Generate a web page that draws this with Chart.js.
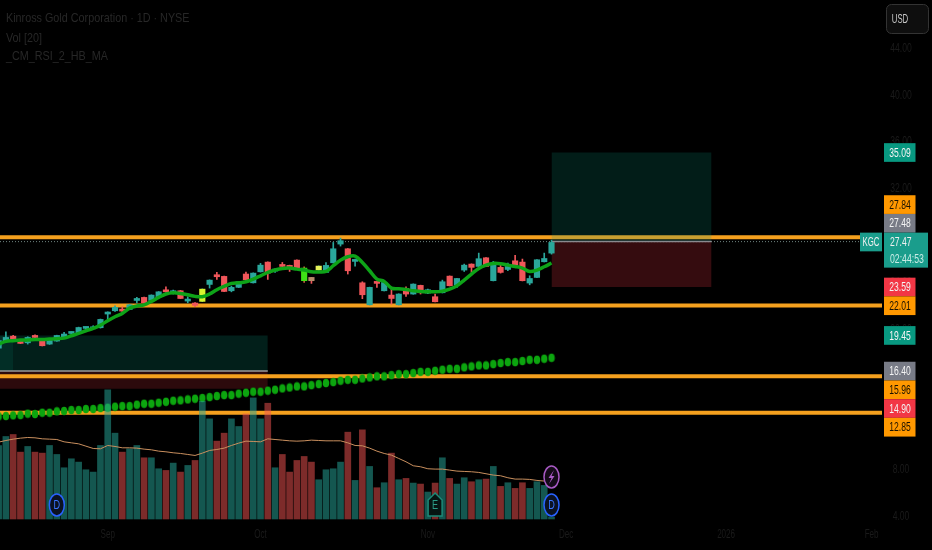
<!DOCTYPE html>
<html>
<head>
<meta charset="utf-8">
<title>KGC</title>
<script src="https://cdn.jsdelivr.net/npm/chart.js@4/dist/chart.umd.min.js"></script>
<style>
html,body{margin:0;padding:0;background:#000;}
canvas{display:block;}
</style>
</head>
<body>
<canvas id="kgcChart" width="932" height="550"></canvas>
<script>
const legendLines = ['Kinross Gold Corporation · 1D · NYSE', 'Vol [20]', '_CM_RSI_2_HB_MA'];

// daily bars, from Aug into the end of Nov
const opens = [18.37,19.0,19.39,18.94,18.82,19.42,19.19,18.71,18.97,19.28,
19.62,19.68,20.05,20.02,20.11,21.28,21.56,21.62,21.67,22.44,
22.70,22.44,22.73,23.30,23.10,23.27,22.39,22.22,22.36,23.81,
24.55,24.50,23.27,23.56,24.70,23.95,24.89,25.72,24.95,25.41,
25.44,25.89,24.13,24.41,25.04,24.84,25.66,27.26,26.86,25.78,
23.95,22.07,23.98,23.27,22.90,22.07,23.47,22.99,23.73,23.07,
22.76,23.10,24.52,23.75,25.04,25.55,25.35,26.09,24.13,25.27,
25.09,25.83,25.72,23.93,24.41,25.75,26.49];
const highs = [19.0,19.76,19.45,18.94,19.34,19.51,19.19,19.05,19.47,19.71,
19.76,20.16,20.16,20.28,20.85,21.47,21.99,21.90,22.10,22.70,
22.72,22.92,23.20,23.61,23.33,23.30,22.76,22.27,23.43,24.20,
24.84,24.52,23.67,24.06,24.87,24.80,25.61,25.74,25.15,25.69,
25.46,25.91,25.32,24.41,25.40,25.69,27.40,27.77,26.88,25.98,
24.04,23.58,24.00,24.13,23.41,23.01,23.61,23.86,23.75,23.41,
22.99,24.18,24.54,24.34,25.55,25.57,26.49,26.11,25.78,25.61,
25.64,26.29,25.98,24.55,25.94,26.49,27.60];
const lows = [18.37,18.95,19.0,18.75,18.71,19.14,18.55,18.68,18.95,19.19,
19.57,19.65,20.02,19.96,20.08,20.76,21.50,21.42,21.65,22.24,
22.22,22.42,22.70,23.16,22.99,22.60,22.24,21.90,22.34,23.50,
24.24,23.20,23.18,23.54,24.19,23.93,24.87,24.24,24.84,25.15,
24.92,25.16,23.98,23.90,25.02,24.81,25.64,27.09,24.70,25.38,
22.59,22.05,23.56,23.25,22.13,22.05,22.79,22.97,22.99,23.02,
22.31,23.08,23.68,23.56,24.92,24.84,25.33,25.33,24.11,24.78,
24.98,25.44,24.11,23.78,24.39,25.73,26.40];
const closes = [19.0,19.28,19.0,18.77,19.28,19.28,18.57,19.02,19.45,19.57,
19.68,20.13,20.11,20.08,20.82,21.42,21.85,21.53,22.07,22.50,
22.24,22.90,23.18,23.18,23.18,22.61,22.44,22.02,23.41,24.18,
24.47,23.21,23.56,24.04,24.21,24.78,25.46,24.78,25.04,25.35,
25.15,25.18,25.21,24.13,25.38,25.44,26.86,27.55,24.98,25.92,
22.93,23.56,23.90,23.98,22.61,22.99,22.99,23.84,23.10,23.36,
22.33,24.04,23.70,24.32,25.46,25.27,26.01,25.35,25.55,24.84,
25.35,25.46,24.13,24.32,25.92,26.03,27.40];

// thick green average over the candles
const trendLine = [18.71,18.94,19.0,19.05,19.05,19.11,19.11,19.14,19.17,19.22,
19.42,19.62,19.85,20.05,20.33,20.71,21.05,21.33,21.79,21.96,
22.07,22.36,22.70,22.99,23.10,23.04,22.93,22.79,22.76,22.99,
23.36,23.64,23.90,23.95,24.04,24.27,24.55,24.84,25.04,25.18,
25.21,25.12,25.04,24.89,24.87,24.92,25.41,25.89,26.18,26.23,
25.69,24.98,24.27,24.07,23.50,23.44,23.38,23.27,23.21,23.18,
23.18,23.24,23.41,23.70,24.18,24.70,25.18,25.46,25.61,25.58,
25.46,25.35,25.21,24.92,25.04,25.32,25.64];

// slow green dots
const dotLine = [12.53,12.56,12.62,12.64,12.76,12.73,12.84,12.84,12.96,12.99,
13.07,13.07,13.16,13.16,13.24,13.27,13.36,13.41,13.41,13.53,
13.61,13.61,13.70,13.78,13.87,13.90,13.98,14.04,14.10,14.18,
14.27,14.35,14.35,14.47,14.55,14.64,14.64,14.73,14.81,14.92,
15.0,15.09,15.09,15.20,15.29,15.38,15.46,15.58,15.66,15.66,
15.77,15.86,15.95,15.95,16.06,16.14,16.14,16.23,16.34,16.34,
16.43,16.52,16.60,16.60,16.72,16.80,16.89,16.89,17.0,17.09,
17.17,17.17,17.26,17.37,17.37,17.46,17.54];

// volume in millions
const volumes = [11.05,12.4,12.7,10.05,10.9,10.05,9.9,11.05,9.7,7.7,
9.05,8.55,7.4,7.05,11.05,19.4,12.9,10.05,10.55,11.05,
9.2,9.2,7.55,7.3,8.4,7.05,8.05,8.8,17.7,15.05,
11.7,12.9,15.05,13.9,15.8,18.2,15.05,17.4,7.7,9.7,
7.05,8.8,9.4,8.55,5.9,7.4,7.55,8.55,13.05,5.8,
13.4,7.9,4.7,5.45,9.9,5.9,6.1,5.4,5.25,4.05,
5.4,9.2,6.1,5.25,6.2,5.6,5.9,6.0,7.9,4.9,
5.45,4.6,5.45,4.6,5.6,5.05,0.3];
const volumeDown = [0,0,1,1,0,1,1,0,0,0,
0,0,0,0,0,0,0,1,0,0,
1,0,0,1,0,1,0,1,0,0,
1,1,0,0,1,0,0,1,0,1,
1,1,1,1,0,0,0,0,1,0,
1,0,1,0,1,0,1,0,1,0,
1,0,1,0,0,1,0,1,0,1,
0,1,1,0,0,0,0];
const volumeAverage = [11.55,11.8,12.0,12.15,12.25,12.2,12.05,12.0,11.95,11.6,
11.45,11.3,10.95,10.6,10.55,11.05,10.9,10.7,10.7,10.65,
10.5,10.4,10.2,10.1,9.95,9.85,9.7,9.55,9.9,10.3,
10.45,10.65,11.05,11.4,11.7,11.65,11.6,12.05,11.95,11.85,
11.75,11.7,11.75,11.85,11.8,11.75,11.75,11.75,11.45,11.05,
11.0,10.65,10.2,9.85,9.6,9.1,8.6,8.0,7.85,7.55,
7.5,7.5,7.35,7.2,7.15,7.1,7.0,6.8,6.6,6.5,
6.2,6.0,6.0,5.95,5.8,5.7];

const priceTicks = [44,40,36,32,28,24,20,16,12,8,4];
const monthBars = [15,36,59,78,100,120];
const monthNames = ['Sep','Oct','Nov','Dec','2026','Feb'];

const levelPrices = [27.84,22.01,15.96,12.85];
const lastPrice = 27.47;
const countdown = '02:44:53';

const tagPrices = [35.09,27.84,27.48,23.59,22.01,19.45,16.40,15.96,14.90,12.85];
const tagKinds = ['teal','orange','gray','red','orange','teal','gray','orange','red','orange'];

const eventBars = [8,60,76,76];
const eventKinds = ['D','E','bolt','D'];

const UP = '#2aa79b';
const DOWN = '#f0565a';
const paintBars = {28:'#d8f52e',42:'#3fe016',43:'#b68d6c',44:'#e4f25a'};
const FONT = '"Liberation Sans",Arial,sans-serif';

const xMin = 0.19;
const xMax = 121.43;
const barIndex = opens.map((v,i)=>i);

function seq(values){
	return values.map((v,i)=>({x:i,y:v}));
}
function hLine(price,from,to,extra){
	return Object.assign({
		type:'line',
		data:[{x:from,y:price},{x:to,y:price}],
		pointRadius:0,
		borderWidth:0,
		fill:false
	},extra);
}
function zone(top,bottom,from,to,color,order){
	return [
		hLine(top,from,to,{fill:'+1',backgroundColor:color,order:order}),
		hLine(bottom,from,to,{order:order})
	];
}

// the dots are taller than wide in the picture
const dotMark = document.createElement('canvas');
dotMark.width = 8;
dotMark.height = 10;
{
	const c = dotMark.getContext('2d');
	c.fillStyle = '#0ca50f';
	c.beginPath();
	c.ellipse(4,5,3.2,4.3,0,0,Math.PI*2);
	c.fill();
}

const bodyColors = barIndex.map(i=>paintBars[i] || (closes[i]>=opens[i] ? UP : DOWN));
const wickColors = barIndex.map(i=>closes[i]>=opens[i] ? UP : DOWN);
wickColors[42] = '#c0603a';

const datasets = [
	{type:'line',data:seq(trendLine),borderColor:'#0ea318',borderWidth:3.5,pointRadius:0,tension:0.35,fill:false,order:1},
	{type:'bar',data:barIndex.map(i=>({x:i,y:[opens[i],closes[i]]})),backgroundColor:bodyColors,barThickness:5.5,minBarLength:2,grouped:false,order:2},
	{type:'bar',data:barIndex.map(i=>({x:i,y:[lows[i],highs[i]]})),backgroundColor:wickColors,barThickness:1,grouped:false,order:3},
	{type:'line',data:seq(volumeAverage),yAxisID:'v',borderColor:'#c98f5e',borderWidth:1,pointRadius:0,fill:false,order:4},
	{type:'bar',data:barIndex.map(i=>({x:i,y:volumes[i]})),yAxisID:'v',
		backgroundColor:barIndex.map(i=>volumeDown[i] ? 'rgba(239,83,80,.52)' : 'rgba(38,166,154,.52)'),
		barThickness:6,grouped:false,order:5},
	{type:'line',data:seq(dotLine),showLine:false,pointStyle:dotMark,pointRadius:4,order:6},
	hLine(27.48,76,98,{borderWidth:1.5,borderColor:'#8a8a8f',order:7}),
	...zone(35.09,27.48,76,98,'rgba(8,153,129,.19)',7),
	...zone(27.48,23.59,76,98,'rgba(242,54,69,.22)',7),
	...levelPrices.map(p=>hLine(p,xMin,xMax,{borderWidth:4,borderColor:'#f5a01e',order:8})),
	hLine(lastPrice,xMin,xMax,{borderWidth:1,borderColor:'#6f8480',borderDash:[1,2],order:9}),
	hLine(16.40,xMin,37,{borderWidth:1.5,borderColor:'#9a9a9a',order:10}),
	...zone(19.45,16.40,xMin,37,'rgba(8,153,129,.2)',10),
	...zone(19.45,16.40,xMin,2,'rgba(8,153,129,.12)',10),
	...zone(16.40,14.90,xMin,37,'rgba(242,54,69,.18)',10)
];

function roundBox(ctx,x,y,w,h,r,fill,stroke){
	ctx.beginPath();
	ctx.roundRect(x,y,w,h,r);
	ctx.fillStyle = fill;
	ctx.fill();
	if(stroke){
		ctx.strokeStyle = stroke;
		ctx.stroke();
	}
}

// no condensed font is installed, so squeeze the text sideways
function squeezed(ctx,text,x,y,ratio){
	ctx.save();
	ctx.translate(x,y);
	ctx.scale(ratio,1);
	ctx.fillText(text,0,0);
	ctx.restore();
}

const overlay = {
	id:'overlay',
	afterDatasetsDraw(chart){
		const ctx = chart.ctx;
		const x = chart.scales.x;
		const y = chart.scales.y;

		ctx.save();
		ctx.font = '13px '+FONT;
		ctx.textBaseline = 'middle';
		ctx.textAlign = 'center';

		// axis labels
		ctx.fillStyle = '#1a1a1a';
		y.ticks.forEach(t=>{
			squeezed(ctx,t.label,901,y.getPixelForValue(t.value),0.66);
		});
		x.ticks.forEach(t=>{
			squeezed(ctx,t.label,x.getPixelForValue(t.value),534.5,0.62);
		});

		// event badges on the bottom of the volume pane
		eventBars.forEach((bar,i)=>{
			const px = x.getPixelForValue(bar);
			const kind = eventKinds[i];
			const py = kind==='bolt' ? 477 : 505;
			ctx.lineWidth = 1.5;
			if(kind==='E'){
				ctx.beginPath();
				ctx.moveTo(px-7,py-5);
				ctx.lineTo(px,py-12);
				ctx.lineTo(px+7,py-5);
				ctx.lineTo(px+7,py+11);
				ctx.lineTo(px-7,py+11);
				ctx.closePath();
				ctx.fillStyle = '#061512';
				ctx.fill();
				ctx.strokeStyle = '#1c8a78';
				ctx.stroke();
				ctx.fillStyle = '#2c9c88';
			} else {
				ctx.beginPath();
				ctx.ellipse(px,py,7.5,11,0,0,Math.PI*2);
				ctx.fillStyle = kind==='bolt' ? '#140a18' : '#0b1222';
				ctx.fill();
				ctx.strokeStyle = kind==='bolt' ? '#a85ac4' : '#2962ff';
				ctx.stroke();
				ctx.fillStyle = kind==='bolt' ? '#a85ac4' : '#3a74ff';
			}
			if(kind==='bolt'){
				ctx.beginPath();
				ctx.moveTo(px+2.5,py-7);
				ctx.lineTo(px-3,py+1);
				ctx.lineTo(px,py+1);
				ctx.lineTo(px-2.5,py+7);
				ctx.lineTo(px+3,py-1);
				ctx.lineTo(px,py-1);
				ctx.closePath();
				ctx.fill();
			} else {
				squeezed(ctx,kind,px,py+0.5,0.7);
			}
		});

		// legend top left
		ctx.textAlign = 'left';
		ctx.fillStyle = '#272727';
		legendLines.forEach((line,i)=>{
			squeezed(ctx,line,6,[18,38,56][i],0.83);
		});

		// USD button
		ctx.lineWidth = 1;
		roundBox(ctx,886.5,4.5,42,29,5,'#0e0e0e','#333');
		ctx.fillStyle = '#c8c8c8';
		ctx.textAlign = 'center';
		squeezed(ctx,'USD',900,19.5,0.6);

		// price tags, pushed apart the way the platform stacks them
		const tagH = 18.7;
		const tagFill = {teal:'#089981',orange:'#ff9800',gray:'#787b86',red:'#f23645'};
		const mainY = y.getPixelForValue(lastPrice);
		const mainTop = mainY-9;
		const mainBottom = mainY+26;
		let above = mainTop;
		let below = -1;
		const drawTag = (price,kind,center)=>{
			ctx.fillStyle = tagFill[kind];
			ctx.fillRect(884,center-tagH/2,31.5,tagH);
			ctx.fillStyle = kind==='orange' ? '#1a1200' : '#f4f4f4';
			ctx.textAlign = 'center';
			squeezed(ctx,price.toFixed(2),900,center+0.5,0.66);
		};
		tagPrices.forEach((price,i)=>{
			if(price>lastPrice && price<lastPrice+2){
				return;
			}
			let center = y.getPixelForValue(price);
			if(price<lastPrice){
				center = Math.max(center,below+tagH/2);
				below = center+tagH/2;
			}
			drawTag(price,tagKinds[i],center);
		});
		tagPrices.slice().reverse().forEach((price,i)=>{
			if(price>lastPrice && price<lastPrice+2){
				const center = Math.min(y.getPixelForValue(price),above-tagH/2);
				above = center-tagH/2;
				drawTag(price,tagKinds[tagPrices.length-1-i],center);
			}
		});

		// symbol tag and the live price box
		ctx.fillStyle = '#1a9d8c';
		ctx.fillRect(860,mainTop,22,tagH);
		ctx.fillRect(884,mainTop,44,mainBottom-mainTop);
		ctx.fillStyle = '#f0f0f0';
		ctx.textAlign = 'center';
		squeezed(ctx,'KGC',871,mainTop+tagH/2+0.5,0.6);
		ctx.textAlign = 'left';
		squeezed(ctx,lastPrice.toFixed(2),890,mainTop+tagH/2+0.5,0.66);
		ctx.fillStyle = '#c9ece6';
		squeezed(ctx,countdown,890,mainBottom-8.5,0.67);

		ctx.restore();
	}
};

new Chart(
	document.getElementById('kgcChart'),
	{
		type:'bar',
		data:{datasets:datasets},
		plugins:[overlay],
		options:{
			responsive:false,
			animation:false,
			events:[],
			layout:{padding:0,autoPadding:false},
			plugins:{legend:{display:false},title:{display:false},tooltip:{enabled:false}},
			scales:{
				x:{
					type:'linear',
					offset:false,
					min:xMin,
					max:xMax,
					grid:{display:false},
					border:{display:false},
					afterFit(scale){
						scale.height = 30;
					},
					afterBuildTicks(scale){
						scale.ticks = monthBars.map(b=>({value:b}));
					},
					ticks:{
						display:false,
						autoSkip:false,
						callback(value){
							return monthNames[monthBars.indexOf(value)];
						}
					}
				},
				y:{
					position:'right',
					min:3.67,
					max:48.13,
					grid:{display:false},
					border:{display:false},
					afterFit(scale){
						scale.width = 50;
					},
					afterBuildTicks(scale){
						scale.ticks = priceTicks.map(p=>({value:p}));
					},
					ticks:{
						display:false,
						callback(value){
							return value.toFixed(2);
						}
					}
				},
				v:{
					display:false,
					min:-0.15,
					max:78
				}
			}
		}
	}
);
</script>
</body>
</html>
